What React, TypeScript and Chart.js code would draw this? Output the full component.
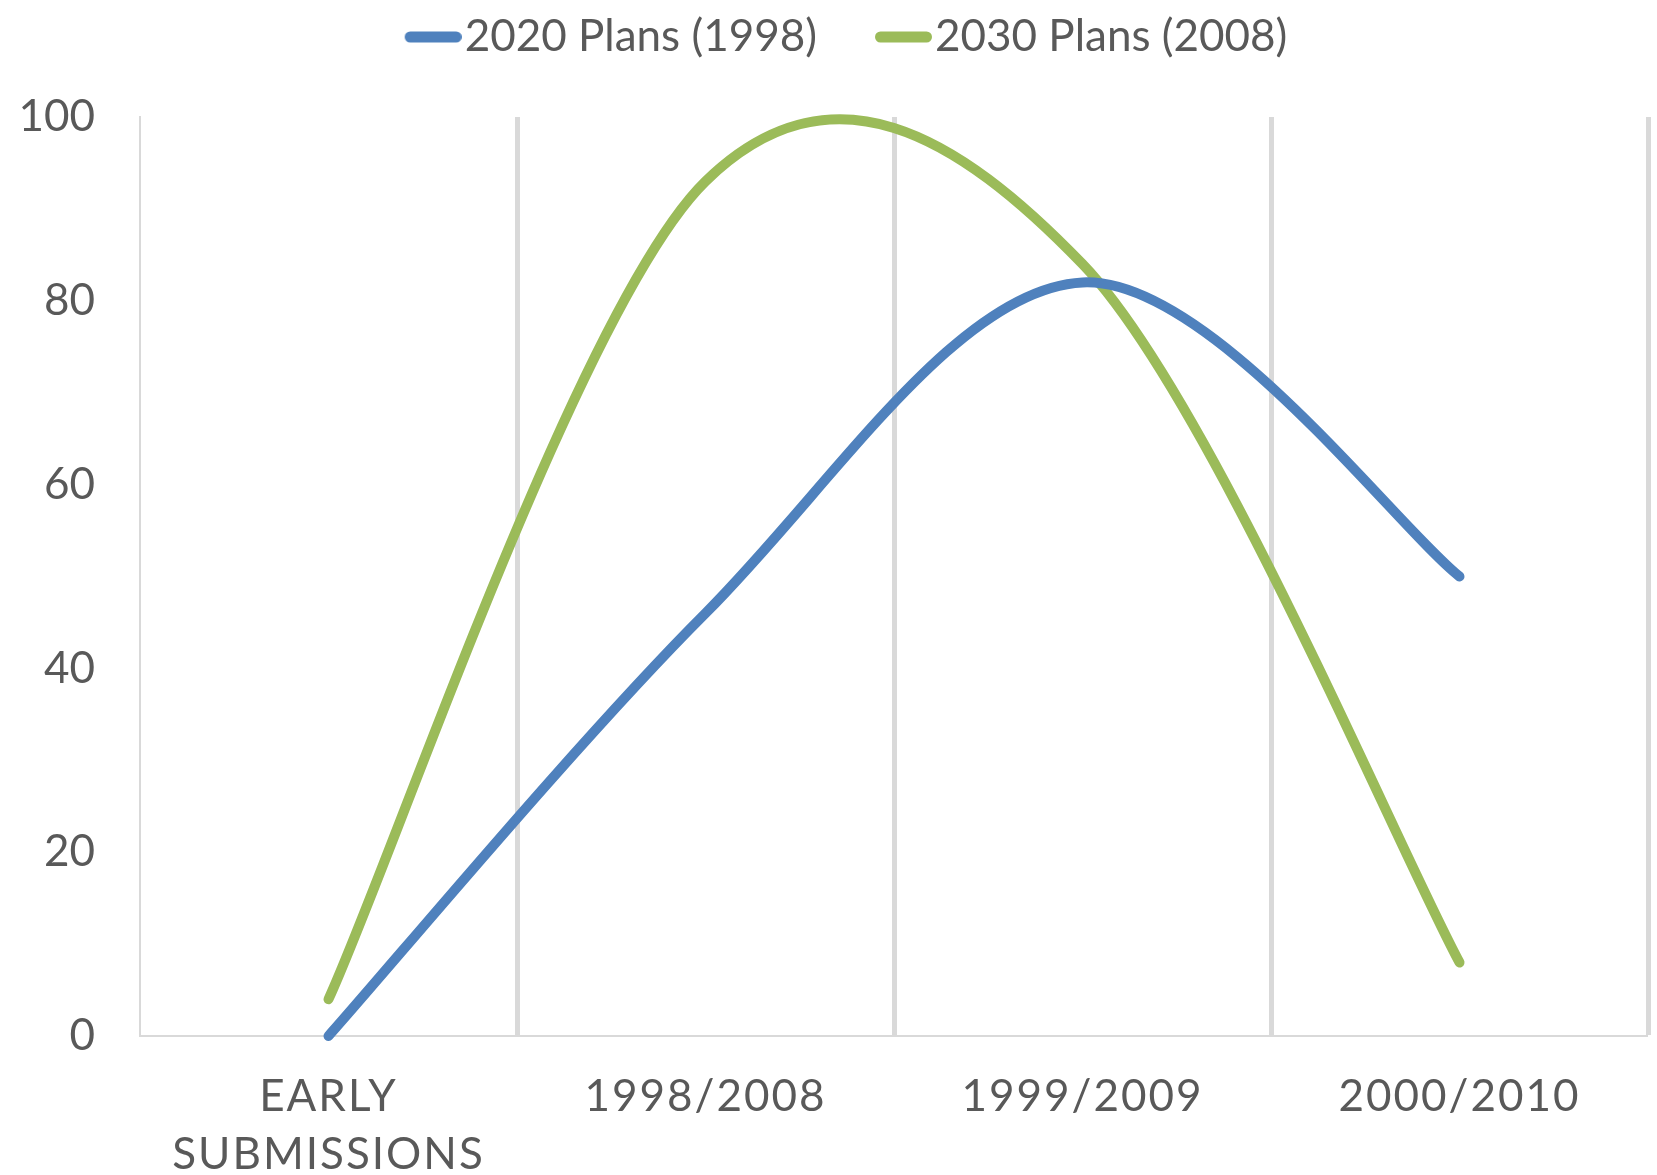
import { useEffect, useRef } from 'react';
import { Chart, registerables } from 'chart.js';

Chart.register(...registerables);

// ---- data ----
const categories: (string | string[])[] = [['EARLY', 'SUBMISSIONS'], '1998/2008', '1999/2009', '2000/2010'];
const plans2020 = [0, 46, 82, 50];
const plans2030 = [4, 93, 84, 8];
const yTickValues = [0, 20, 40, 60, 80, 100];
const seriesNames = ['2020 Plans (1998)', '2030 Plans (2008)'];
const seriesColors = ['#4F81BD', '#9BBB59'];

const TEXT = '#595959';
const GRID = '#D9D9D9';
const FONT = 'Lato';

const LEGEND_PAD = 58;

// Legend block height so the plot area starts where the reference's does
const legendSpace = {
  id: 'legendSpace',
  beforeInit(chart: any) {
    const lg = chart.legend;
    if (!lg) return;
    const orig = lg.fit;
    lg.fit = function () {
      orig.call(this);
      this.height = 160;
      if (this.lineWidths && this.lineWidths.length) this.lineWidths[0] -= 28;
    };
  },
};

// Excel-style smoothing (Catmull-Rom, 1/6 of neighbour span) for control points
const excelSmooth = {
  id: 'excelSmooth',
  beforeDatasetDraw(chart: any, args: any) {
    const meta = chart.getDatasetMeta(args.index);
    const pts = meta.data;
    for (let i = 0; i < pts.length; i++) {
      const p = pts[i];
      const prev = pts[i - 1] || p;
      const next = pts[i + 1] || p;
      const dx = (next.x - prev.x) / 6;
      const dy = (next.y - prev.y) / 6;
      p.cp1x = p.x - dx;
      p.cp1y = p.y - dy;
      p.cp2x = p.x + dx;
      p.cp2y = p.y + dy;
    }
    const line = meta.dataset;
    if (line) {
      line._pointsUpdated = true;
      line._path = undefined;
    }
  },
};

// Letter spacing on category labels
const xLetterSpacing = {
  id: 'xLetterSpacing',
  beforeDraw(chart: any) {
    const xs = chart.scales.x;
    if (xs && !xs.__ls) {
      const orig = xs.drawLabels;
      xs.drawLabels = function (area: any) {
        const ctx = this.ctx;
        ctx.save();
        ctx.letterSpacing = '2px';
        orig.call(this, area);
        ctx.restore();
      };
      xs.__ls = true;
    }
  },
};

// Legend marker: a rounded line sitting right next to the text
const markerCache: Record<string, HTMLCanvasElement> = {};
function lineMarker(color: string): HTMLCanvasElement {
  if (markerCache[color]) return markerCache[color];
  const c = document.createElement('canvas');
  c.width = 76;
  c.height = 12;
  const g = c.getContext('2d')!;
  g.strokeStyle = color;
  g.lineWidth = 11;
  g.lineCap = 'round';
  g.beginPath();
  g.moveTo(19 + 5.5, 6);
  g.lineTo(76 - 5.5, 6);
  g.stroke();
  markerCache[color] = c;
  return c;
}

export default function App() {
  const ref = useRef<HTMLCanvasElement>(null);

  useEffect(() => {
    const canvas = ref.current;
    if (!canvas) return;
    const mk = (i: number, data: number[]) => ({
      label: seriesNames[i],
      data,
      borderColor: seriesColors[i],
      backgroundColor: seriesColors[i],
      borderWidth: 10,
      pointRadius: 0,
      pointHoverRadius: 0,
      tension: 0.4,
      borderCapStyle: 'round' as const,
      borderJoinStyle: 'round' as const,
      fill: false,
      clip: false as any,
    });
    const chart = new Chart(canvas, {
      type: 'line',
      data: {
        labels: categories,
        datasets: [mk(0, plans2020), mk(1, plans2030)],
      },
      options: {
        responsive: false,
        animation: false,
        events: [],
        layout: { padding: { top: -43, left: 16, right: 9, bottom: 0 } },
        plugins: {
          legend: {
            position: 'top',
            labels: {
              usePointStyle: true,
              pointStyleWidth: 38,
              boxHeight: 12,
              padding: LEGEND_PAD,
              color: TEXT,
              font: { family: FONT, size: 44 },
              generateLabels: (c: any) =>
                Chart.defaults.plugins.legend.labels
                  .generateLabels(c)
                  .map((l: any, i: number) => ({
                    ...l,
                    lineWidth: 0,
                    pointStyle: lineMarker(seriesColors[i]),
                  })),
            },
          },
          tooltip: { enabled: false },
        },
        scales: {
          x: {
            offset: true,
            grid: {
              offset: true,
              drawTicks: false,
              color: GRID,
              lineWidth: (ctx: any) => (ctx.index === 0 ? 0 : 5),
            },
            border: { display: true, color: GRID, width: 2 },
            ticks: {
              color: TEXT,
              padding: 32,
              maxRotation: 0,
              autoSkip: false,
              font: { family: FONT, size: 44, lineHeight: 1.318 },
            },
            afterFit: (s: any) => {
              s.height = 139;
            },
          },
          y: {
            min: 0,
            max: 100,
            grid: { display: false, drawTicks: false },
            border: { display: true, color: GRID, width: 2 },
            ticks: {
              color: TEXT,
              padding: 45,
              font: { family: FONT, size: 44 },
            },
            afterBuildTicks: (s: any) => {
              s.ticks = yTickValues.map((v) => ({ value: v }));
            },
            afterFit: (s: any) => {
              s.width = 124;
            },
          },
        },
      },
      plugins: [legendSpace, excelSmooth, xLetterSpacing],
    } as any);
    return () => chart.destroy();
  }, []);

  return (
    <div
      style={{
        position: 'absolute',
        left: 0,
        top: 0,
        width: 1657,
        height: 1175,
        overflow: 'hidden',
        background: '#ffffff',
      }}
    >
      <canvas ref={ref} width={1657} height={1175} style={{ display: 'block' }} />
    </div>
  );
}
